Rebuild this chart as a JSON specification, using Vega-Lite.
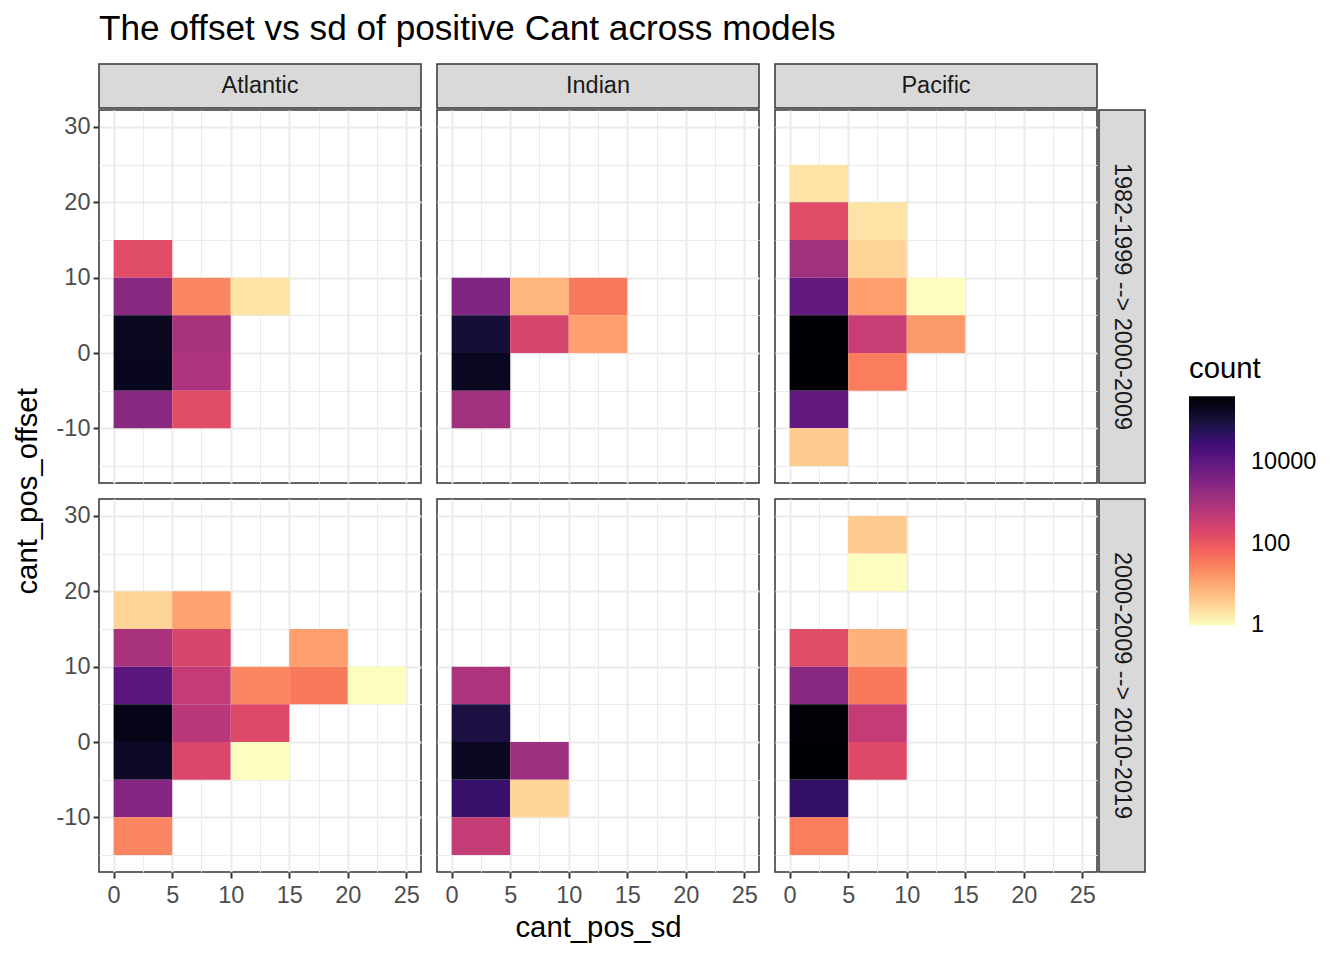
{
  "$schema": "https://vega.github.io/schema/vega-lite/v6.json",
  "title": {"text": "The offset vs sd of positive Cant across models", "anchor": "start", "frame": "group", "fontSize": 35.2, "fontWeight": "normal", "color": "#000000", "offset": 16},
  "padding": {"left": 13, "top": 12, "right": 5, "bottom": 5},
  "config": {
    "font": "Liberation Sans",
    "view": {"stroke": "#333333", "strokeWidth": 1.5},
    "axis": {"gridColor": "#ebebeb", "domain": false, "tickColor": "#333333", "tickSize": 6, "tickWidth": 2, "labelColor": "#4d4d4d", "labelFontSize": 23.5, "labelPadding": 3, "titleFontSize": 29.3, "titleFontWeight": "normal", "titleColor": "#000000", "labelFlush": false, "labelOverlap": false},
    "axisX": {"labelPadding": 5}
  },
  "datasets": {
    "bins": [
      {"basin": "Atlantic", "period": "P1", "sd_lo": 0, "sd_hi": 5, "off_lo": 10, "off_hi": 15, "count": 155},
      {"basin": "Atlantic", "period": "P1", "sd_lo": 0, "sd_hi": 5, "off_lo": 5, "off_hi": 10, "count": 2600},
      {"basin": "Atlantic", "period": "P1", "sd_lo": 5, "sd_hi": 10, "off_lo": 5, "off_hi": 10, "count": 25},
      {"basin": "Atlantic", "period": "P1", "sd_lo": 10, "sd_hi": 15, "off_lo": 5, "off_hi": 10, "count": 2},
      {"basin": "Atlantic", "period": "P1", "sd_lo": 0, "sd_hi": 5, "off_lo": 0, "off_hi": 5, "count": 190000},
      {"basin": "Atlantic", "period": "P1", "sd_lo": 0, "sd_hi": 5, "off_lo": -5, "off_hi": 0, "count": 200000},
      {"basin": "Atlantic", "period": "P1", "sd_lo": 5, "sd_hi": 10, "off_lo": 0, "off_hi": 5, "count": 940},
      {"basin": "Atlantic", "period": "P1", "sd_lo": 5, "sd_hi": 10, "off_lo": -5, "off_hi": 0, "count": 830},
      {"basin": "Atlantic", "period": "P1", "sd_lo": 0, "sd_hi": 5, "off_lo": -10, "off_hi": -5, "count": 2600},
      {"basin": "Atlantic", "period": "P1", "sd_lo": 5, "sd_hi": 10, "off_lo": -10, "off_hi": -5, "count": 155},
      {"basin": "Indian", "period": "P1", "sd_lo": 0, "sd_hi": 5, "off_lo": 5, "off_hi": 10, "count": 3400},
      {"basin": "Indian", "period": "P1", "sd_lo": 5, "sd_hi": 10, "off_lo": 5, "off_hi": 10, "count": 7},
      {"basin": "Indian", "period": "P1", "sd_lo": 10, "sd_hi": 15, "off_lo": 5, "off_hi": 10, "count": 37},
      {"basin": "Indian", "period": "P1", "sd_lo": 0, "sd_hi": 5, "off_lo": 0, "off_hi": 5, "count": 112000},
      {"basin": "Indian", "period": "P1", "sd_lo": 5, "sd_hi": 10, "off_lo": 0, "off_hi": 5, "count": 230},
      {"basin": "Indian", "period": "P1", "sd_lo": 10, "sd_hi": 15, "off_lo": 0, "off_hi": 5, "count": 13},
      {"basin": "Indian", "period": "P1", "sd_lo": 0, "sd_hi": 5, "off_lo": -5, "off_hi": 0, "count": 190000},
      {"basin": "Indian", "period": "P1", "sd_lo": 0, "sd_hi": 5, "off_lo": -10, "off_hi": -5, "count": 1200},
      {"basin": "Pacific", "period": "P1", "sd_lo": 0, "sd_hi": 5, "off_lo": 20, "off_hi": 25, "count": 2},
      {"basin": "Pacific", "period": "P1", "sd_lo": 0, "sd_hi": 5, "off_lo": 15, "off_hi": 20, "count": 155},
      {"basin": "Pacific", "period": "P1", "sd_lo": 5, "sd_hi": 10, "off_lo": 15, "off_hi": 20, "count": 2},
      {"basin": "Pacific", "period": "P1", "sd_lo": 0, "sd_hi": 5, "off_lo": 10, "off_hi": 15, "count": 1200},
      {"basin": "Pacific", "period": "P1", "sd_lo": 5, "sd_hi": 10, "off_lo": 10, "off_hi": 15, "count": 3},
      {"basin": "Pacific", "period": "P1", "sd_lo": 0, "sd_hi": 5, "off_lo": 5, "off_hi": 10, "count": 9600},
      {"basin": "Pacific", "period": "P1", "sd_lo": 5, "sd_hi": 10, "off_lo": 5, "off_hi": 10, "count": 13},
      {"basin": "Pacific", "period": "P1", "sd_lo": 10, "sd_hi": 15, "off_lo": 5, "off_hi": 10, "count": 1},
      {"basin": "Pacific", "period": "P1", "sd_lo": 0, "sd_hi": 5, "off_lo": 0, "off_hi": 5, "count": 390000},
      {"basin": "Pacific", "period": "P1", "sd_lo": 5, "sd_hi": 10, "off_lo": 0, "off_hi": 5, "count": 380},
      {"basin": "Pacific", "period": "P1", "sd_lo": 10, "sd_hi": 15, "off_lo": 0, "off_hi": 5, "count": 15},
      {"basin": "Pacific", "period": "P1", "sd_lo": 0, "sd_hi": 5, "off_lo": -5, "off_hi": 0, "count": 410000},
      {"basin": "Pacific", "period": "P1", "sd_lo": 5, "sd_hi": 10, "off_lo": -5, "off_hi": 0, "count": 32},
      {"basin": "Pacific", "period": "P1", "sd_lo": 0, "sd_hi": 5, "off_lo": -10, "off_hi": -5, "count": 9600},
      {"basin": "Pacific", "period": "P1", "sd_lo": 0, "sd_hi": 5, "off_lo": -15, "off_hi": -10, "count": 4},
      {"basin": "Atlantic", "period": "P2", "sd_lo": 0, "sd_hi": 5, "off_lo": 15, "off_hi": 20, "count": 3},
      {"basin": "Atlantic", "period": "P2", "sd_lo": 5, "sd_hi": 10, "off_lo": 15, "off_hi": 20, "count": 12},
      {"basin": "Atlantic", "period": "P2", "sd_lo": 0, "sd_hi": 5, "off_lo": 10, "off_hi": 15, "count": 940},
      {"basin": "Atlantic", "period": "P2", "sd_lo": 5, "sd_hi": 10, "off_lo": 10, "off_hi": 15, "count": 230},
      {"basin": "Atlantic", "period": "P2", "sd_lo": 15, "sd_hi": 20, "off_lo": 10, "off_hi": 15, "count": 13},
      {"basin": "Atlantic", "period": "P2", "sd_lo": 0, "sd_hi": 5, "off_lo": 5, "off_hi": 10, "count": 11000},
      {"basin": "Atlantic", "period": "P2", "sd_lo": 5, "sd_hi": 10, "off_lo": 5, "off_hi": 10, "count": 430},
      {"basin": "Atlantic", "period": "P2", "sd_lo": 10, "sd_hi": 15, "off_lo": 5, "off_hi": 10, "count": 25},
      {"basin": "Atlantic", "period": "P2", "sd_lo": 15, "sd_hi": 20, "off_lo": 5, "off_hi": 10, "count": 37},
      {"basin": "Atlantic", "period": "P2", "sd_lo": 20, "sd_hi": 25, "off_lo": 5, "off_hi": 10, "count": 1},
      {"basin": "Atlantic", "period": "P2", "sd_lo": 0, "sd_hi": 5, "off_lo": 0, "off_hi": 5, "count": 240000},
      {"basin": "Atlantic", "period": "P2", "sd_lo": 5, "sd_hi": 10, "off_lo": 0, "off_hi": 5, "count": 560},
      {"basin": "Atlantic", "period": "P2", "sd_lo": 10, "sd_hi": 15, "off_lo": 0, "off_hi": 5, "count": 175},
      {"basin": "Atlantic", "period": "P2", "sd_lo": 0, "sd_hi": 5, "off_lo": -5, "off_hi": 0, "count": 165000},
      {"basin": "Atlantic", "period": "P2", "sd_lo": 5, "sd_hi": 10, "off_lo": -5, "off_hi": 0, "count": 200},
      {"basin": "Atlantic", "period": "P2", "sd_lo": 10, "sd_hi": 15, "off_lo": -5, "off_hi": 0, "count": 1},
      {"basin": "Atlantic", "period": "P2", "sd_lo": 0, "sd_hi": 5, "off_lo": -10, "off_hi": -5, "count": 3000},
      {"basin": "Atlantic", "period": "P2", "sd_lo": 0, "sd_hi": 5, "off_lo": -15, "off_hi": -10, "count": 25},
      {"basin": "Indian", "period": "P2", "sd_lo": 0, "sd_hi": 5, "off_lo": 5, "off_hi": 10, "count": 830},
      {"basin": "Indian", "period": "P2", "sd_lo": 0, "sd_hi": 5, "off_lo": 0, "off_hi": 5, "count": 87000},
      {"basin": "Indian", "period": "P2", "sd_lo": 0, "sd_hi": 5, "off_lo": -5, "off_hi": 0, "count": 190000},
      {"basin": "Indian", "period": "P2", "sd_lo": 5, "sd_hi": 10, "off_lo": -5, "off_hi": 0, "count": 1400},
      {"basin": "Indian", "period": "P2", "sd_lo": 0, "sd_hi": 5, "off_lo": -10, "off_hi": -5, "count": 35000},
      {"basin": "Indian", "period": "P2", "sd_lo": 5, "sd_hi": 10, "off_lo": -10, "off_hi": -5, "count": 3},
      {"basin": "Indian", "period": "P2", "sd_lo": 0, "sd_hi": 5, "off_lo": -15, "off_hi": -10, "count": 430},
      {"basin": "Pacific", "period": "P2", "sd_lo": 5, "sd_hi": 10, "off_lo": 25, "off_hi": 30, "count": 4},
      {"basin": "Pacific", "period": "P2", "sd_lo": 5, "sd_hi": 10, "off_lo": 20, "off_hi": 25, "count": 1},
      {"basin": "Pacific", "period": "P2", "sd_lo": 0, "sd_hi": 5, "off_lo": 10, "off_hi": 15, "count": 155},
      {"basin": "Pacific", "period": "P2", "sd_lo": 5, "sd_hi": 10, "off_lo": 10, "off_hi": 15, "count": 8},
      {"basin": "Pacific", "period": "P2", "sd_lo": 0, "sd_hi": 5, "off_lo": 5, "off_hi": 10, "count": 2600},
      {"basin": "Pacific", "period": "P2", "sd_lo": 5, "sd_hi": 10, "off_lo": 5, "off_hi": 10, "count": 37},
      {"basin": "Pacific", "period": "P2", "sd_lo": 0, "sd_hi": 5, "off_lo": 0, "off_hi": 5, "count": 380000},
      {"basin": "Pacific", "period": "P2", "sd_lo": 5, "sd_hi": 10, "off_lo": 0, "off_hi": 5, "count": 430},
      {"basin": "Pacific", "period": "P2", "sd_lo": 0, "sd_hi": 5, "off_lo": -5, "off_hi": 0, "count": 400000},
      {"basin": "Pacific", "period": "P2", "sd_lo": 5, "sd_hi": 10, "off_lo": -5, "off_hi": 0, "count": 175},
      {"basin": "Pacific", "period": "P2", "sd_lo": 0, "sd_hi": 5, "off_lo": -10, "off_hi": -5, "count": 40000},
      {"basin": "Pacific", "period": "P2", "sd_lo": 0, "sd_hi": 5, "off_lo": -15, "off_hi": -10, "count": 32}
    ]
  },
  "spacing": 0,
  "vconcat": [
    {
      "spacing": 14,
      "hconcat": [
        {"width": 322, "height": 44, "data": {"values": [{"basin": "Atlantic"}]}, "mark": {"type": "text", "fontSize": 23.5, "color": "#1a1a1a", "baseline": "middle", "align": "center"}, "encoding": {"text": {"field": "basin"}}, "view": {"fill": "#d9d9d9", "stroke": "#333333", "strokeWidth": 1.5}},
        {"width": 322, "height": 44, "data": {"values": [{"basin": "Indian"}]}, "mark": {"type": "text", "fontSize": 23.5, "color": "#1a1a1a", "baseline": "middle", "align": "center"}, "encoding": {"text": {"field": "basin"}}, "view": {"fill": "#d9d9d9", "stroke": "#333333", "strokeWidth": 1.5}},
        {"width": 322, "height": 44, "data": {"values": [{"basin": "Pacific"}]}, "mark": {"type": "text", "fontSize": 23.5, "color": "#1a1a1a", "baseline": "middle", "align": "center"}, "encoding": {"text": {"field": "basin"}}, "view": {"fill": "#d9d9d9", "stroke": "#333333", "strokeWidth": 1.5}}
      ]
    },
    {
      "title": {"text": "cant_pos_offset", "orient": "left", "anchor": "middle", "frame": "bounds", "fontSize": 29.3, "fontWeight": "normal", "color": "#000000", "offset": 12, "dx": 35},
      "spacing": 14,
      "vconcat": [
        {
          "spacing": 14,
          "hconcat": [
            {
              "width": 322, "height": 373,
              "data": {"name": "bins"},
              "transform": [{"filter": "datum.basin === 'Atlantic' && datum.period === 'P1'"}],
              "mark": {"type": "rect"},
              "encoding": {
                "x": {"field": "sd_lo", "type": "quantitative", "scale": {"domain": [-1.25, 26.25], "nice": false, "zero": false}, "axis": {"values": [0, 2.5, 5, 7.5, 10, 12.5, 15, 17.5, 20, 22.5, 25], "labels": false, "ticks": false, "title": null, "gridWidth": {"condition": {"test": "datum.value % 5 !== 0", "value": 1}, "value": 2}}},
                "x2": {"field": "sd_hi"},
                "y": {"field": "off_lo", "type": "quantitative", "scale": {"domain": [-17.25, 32.25], "nice": false, "zero": false}, "axis": {"values": [-15, -10, -5, 0, 5, 10, 15, 20, 25, 30], "labelExpr": "datum.value % 10 === 0 ? '' + datum.value : ''", "tickOpacity": {"condition": {"test": "datum.value % 10 !== 0", "value": 0}, "value": 1}, "gridWidth": {"condition": {"test": "datum.value % 10 !== 0", "value": 1}, "value": 2}, "title": null}},
                "y2": {"field": "off_hi"},
                "color": {"field": "count", "type": "quantitative", "title": "count", "scale": {"type": "log", "domain": [0.99, 410000], "scheme": "magma", "reverse": true}, "legend": {"orient": "none", "legendX": 1090, "legendY": 291, "values": [1, 100, 10000], "format": "d", "gradientLength": 229, "gradientThickness": 46, "direction": "vertical", "titleFontSize": 29.3, "titleFontWeight": "normal", "titleColor": "#000000", "labelFontSize": 23.5, "labelColor": "#000000", "labelOffset": 16, "labelBaseline": "middle", "titlePadding": 12, "gradientStrokeWidth": 0, "labelOverlap": false}}
              }
            },
            {
              "width": 322, "height": 373,
              "data": {"name": "bins"},
              "transform": [{"filter": "datum.basin === 'Indian' && datum.period === 'P1'"}],
              "mark": {"type": "rect"},
              "encoding": {
                "x": {"field": "sd_lo", "type": "quantitative", "scale": {"domain": [-1.25, 26.25], "nice": false, "zero": false}, "axis": {"values": [0, 2.5, 5, 7.5, 10, 12.5, 15, 17.5, 20, 22.5, 25], "labels": false, "ticks": false, "title": null, "gridWidth": {"condition": {"test": "datum.value % 5 !== 0", "value": 1}, "value": 2}}},
                "x2": {"field": "sd_hi"},
                "y": {"field": "off_lo", "type": "quantitative", "scale": {"domain": [-17.25, 32.25], "nice": false, "zero": false}, "axis": {"values": [-15, -10, -5, 0, 5, 10, 15, 20, 25, 30], "labels": false, "ticks": false, "title": null, "gridWidth": {"condition": {"test": "datum.value % 10 !== 0", "value": 1}, "value": 2}}},
                "y2": {"field": "off_hi"},
                "color": {"field": "count", "type": "quantitative", "title": "count", "scale": {"type": "log", "domain": [0.99, 410000], "scheme": "magma", "reverse": true}, "legend": {"orient": "none", "legendX": 1090, "legendY": 291, "values": [1, 100, 10000], "format": "d", "gradientLength": 229, "gradientThickness": 46, "direction": "vertical", "titleFontSize": 29.3, "titleFontWeight": "normal", "titleColor": "#000000", "labelFontSize": 23.5, "labelColor": "#000000", "labelOffset": 16, "labelBaseline": "middle", "titlePadding": 12, "gradientStrokeWidth": 0, "labelOverlap": false}}
              }
            },
            {
              "spacing": 0,
              "hconcat": [
                {
                  "width": 322, "height": 373,
                  "data": {"name": "bins"},
                  "transform": [{"filter": "datum.basin === 'Pacific' && datum.period === 'P1'"}],
                  "mark": {"type": "rect"},
                  "encoding": {
                    "x": {"field": "sd_lo", "type": "quantitative", "scale": {"domain": [-1.25, 26.25], "nice": false, "zero": false}, "axis": {"values": [0, 2.5, 5, 7.5, 10, 12.5, 15, 17.5, 20, 22.5, 25], "labels": false, "ticks": false, "title": null, "gridWidth": {"condition": {"test": "datum.value % 5 !== 0", "value": 1}, "value": 2}}},
                    "x2": {"field": "sd_hi"},
                    "y": {"field": "off_lo", "type": "quantitative", "scale": {"domain": [-17.25, 32.25], "nice": false, "zero": false}, "axis": {"values": [-15, -10, -5, 0, 5, 10, 15, 20, 25, 30], "labels": false, "ticks": false, "title": null, "gridWidth": {"condition": {"test": "datum.value % 10 !== 0", "value": 1}, "value": 2}}},
                    "y2": {"field": "off_hi"},
                    "color": {"field": "count", "type": "quantitative", "title": "count", "scale": {"type": "log", "domain": [0.99, 410000], "scheme": "magma", "reverse": true}, "legend": {"orient": "none", "legendX": 1090, "legendY": 291, "values": [1, 100, 10000], "format": "d", "gradientLength": 229, "gradientThickness": 46, "direction": "vertical", "titleFontSize": 29.3, "titleFontWeight": "normal", "titleColor": "#000000", "labelFontSize": 23.5, "labelColor": "#000000", "labelOffset": 16, "labelBaseline": "middle", "titlePadding": 12, "gradientStrokeWidth": 0, "labelOverlap": false}}
                  }
                },
                {"width": 46, "height": 373, "data": {"values": [{"period": "1982-1999 --> 2000-2009"}]}, "mark": {"type": "text", "fontSize": 23.5, "color": "#1a1a1a", "baseline": "middle", "align": "center", "angle": 90}, "encoding": {"text": {"field": "period"}}, "view": {"fill": "#d9d9d9", "stroke": "#333333", "strokeWidth": 1.5}}
              ]
            }
          ]
        },
        {
          "spacing": 14,
          "hconcat": [
            {
              "width": 322, "height": 373,
              "data": {"name": "bins"},
              "transform": [{"filter": "datum.basin === 'Atlantic' && datum.period === 'P2'"}],
              "mark": {"type": "rect"},
              "encoding": {
                "x": {"field": "sd_lo", "type": "quantitative", "scale": {"domain": [-1.25, 26.25], "nice": false, "zero": false}, "axis": {"values": [0, 2.5, 5, 7.5, 10, 12.5, 15, 17.5, 20, 22.5, 25], "title": null, "labelExpr": "datum.value % 5 === 0 ? '' + datum.value : ''", "tickOpacity": {"condition": {"test": "datum.value % 5 !== 0", "value": 0}, "value": 1}, "gridWidth": {"condition": {"test": "datum.value % 5 !== 0", "value": 1}, "value": 2}}},
                "x2": {"field": "sd_hi"},
                "y": {"field": "off_lo", "type": "quantitative", "scale": {"domain": [-17.25, 32.25], "nice": false, "zero": false}, "axis": {"values": [-15, -10, -5, 0, 5, 10, 15, 20, 25, 30], "labelExpr": "datum.value % 10 === 0 ? '' + datum.value : ''", "tickOpacity": {"condition": {"test": "datum.value % 10 !== 0", "value": 0}, "value": 1}, "gridWidth": {"condition": {"test": "datum.value % 10 !== 0", "value": 1}, "value": 2}, "title": null}},
                "y2": {"field": "off_hi"},
                "color": {"field": "count", "type": "quantitative", "title": "count", "scale": {"type": "log", "domain": [0.99, 410000], "scheme": "magma", "reverse": true}, "legend": {"orient": "none", "legendX": 1090, "legendY": 291, "values": [1, 100, 10000], "format": "d", "gradientLength": 229, "gradientThickness": 46, "direction": "vertical", "titleFontSize": 29.3, "titleFontWeight": "normal", "titleColor": "#000000", "labelFontSize": 23.5, "labelColor": "#000000", "labelOffset": 16, "labelBaseline": "middle", "titlePadding": 12, "gradientStrokeWidth": 0, "labelOverlap": false}}
              }
            },
            {
              "width": 322, "height": 373,
              "data": {"name": "bins"},
              "transform": [{"filter": "datum.basin === 'Indian' && datum.period === 'P2'"}],
              "mark": {"type": "rect"},
              "encoding": {
                "x": {"field": "sd_lo", "type": "quantitative", "scale": {"domain": [-1.25, 26.25], "nice": false, "zero": false}, "axis": {"values": [0, 2.5, 5, 7.5, 10, 12.5, 15, 17.5, 20, 22.5, 25], "title": "cant_pos_sd", "titlePadding": 7, "labelExpr": "datum.value % 5 === 0 ? '' + datum.value : ''", "tickOpacity": {"condition": {"test": "datum.value % 5 !== 0", "value": 0}, "value": 1}, "gridWidth": {"condition": {"test": "datum.value % 5 !== 0", "value": 1}, "value": 2}}},
                "x2": {"field": "sd_hi"},
                "y": {"field": "off_lo", "type": "quantitative", "scale": {"domain": [-17.25, 32.25], "nice": false, "zero": false}, "axis": {"values": [-15, -10, -5, 0, 5, 10, 15, 20, 25, 30], "labels": false, "ticks": false, "title": null, "gridWidth": {"condition": {"test": "datum.value % 10 !== 0", "value": 1}, "value": 2}}},
                "y2": {"field": "off_hi"},
                "color": {"field": "count", "type": "quantitative", "title": "count", "scale": {"type": "log", "domain": [0.99, 410000], "scheme": "magma", "reverse": true}, "legend": {"orient": "none", "legendX": 1090, "legendY": 291, "values": [1, 100, 10000], "format": "d", "gradientLength": 229, "gradientThickness": 46, "direction": "vertical", "titleFontSize": 29.3, "titleFontWeight": "normal", "titleColor": "#000000", "labelFontSize": 23.5, "labelColor": "#000000", "labelOffset": 16, "labelBaseline": "middle", "titlePadding": 12, "gradientStrokeWidth": 0, "labelOverlap": false}}
              }
            },
            {
              "spacing": 0,
              "hconcat": [
                {
                  "width": 322, "height": 373,
                  "data": {"name": "bins"},
                  "transform": [{"filter": "datum.basin === 'Pacific' && datum.period === 'P2'"}],
                  "mark": {"type": "rect"},
                  "encoding": {
                    "x": {"field": "sd_lo", "type": "quantitative", "scale": {"domain": [-1.25, 26.25], "nice": false, "zero": false}, "axis": {"values": [0, 2.5, 5, 7.5, 10, 12.5, 15, 17.5, 20, 22.5, 25], "title": null, "labelExpr": "datum.value % 5 === 0 ? '' + datum.value : ''", "tickOpacity": {"condition": {"test": "datum.value % 5 !== 0", "value": 0}, "value": 1}, "gridWidth": {"condition": {"test": "datum.value % 5 !== 0", "value": 1}, "value": 2}}},
                    "x2": {"field": "sd_hi"},
                    "y": {"field": "off_lo", "type": "quantitative", "scale": {"domain": [-17.25, 32.25], "nice": false, "zero": false}, "axis": {"values": [-15, -10, -5, 0, 5, 10, 15, 20, 25, 30], "labels": false, "ticks": false, "title": null, "gridWidth": {"condition": {"test": "datum.value % 10 !== 0", "value": 1}, "value": 2}}},
                    "y2": {"field": "off_hi"},
                    "color": {"field": "count", "type": "quantitative", "title": "count", "scale": {"type": "log", "domain": [0.99, 410000], "scheme": "magma", "reverse": true}, "legend": {"orient": "none", "legendX": 1090, "legendY": 291, "values": [1, 100, 10000], "format": "d", "gradientLength": 229, "gradientThickness": 46, "direction": "vertical", "titleFontSize": 29.3, "titleFontWeight": "normal", "titleColor": "#000000", "labelFontSize": 23.5, "labelColor": "#000000", "labelOffset": 16, "labelBaseline": "middle", "titlePadding": 12, "gradientStrokeWidth": 0, "labelOverlap": false}}
                  }
                },
                {"width": 46, "height": 373, "data": {"values": [{"period": "2000-2009 --> 2010-2019"}]}, "mark": {"type": "text", "fontSize": 23.5, "color": "#1a1a1a", "baseline": "middle", "align": "center", "angle": 90}, "encoding": {"text": {"field": "period"}}, "view": {"fill": "#d9d9d9", "stroke": "#333333", "strokeWidth": 1.5}}
              ]
            }
          ]
        }
      ]
    }
  ]
}
